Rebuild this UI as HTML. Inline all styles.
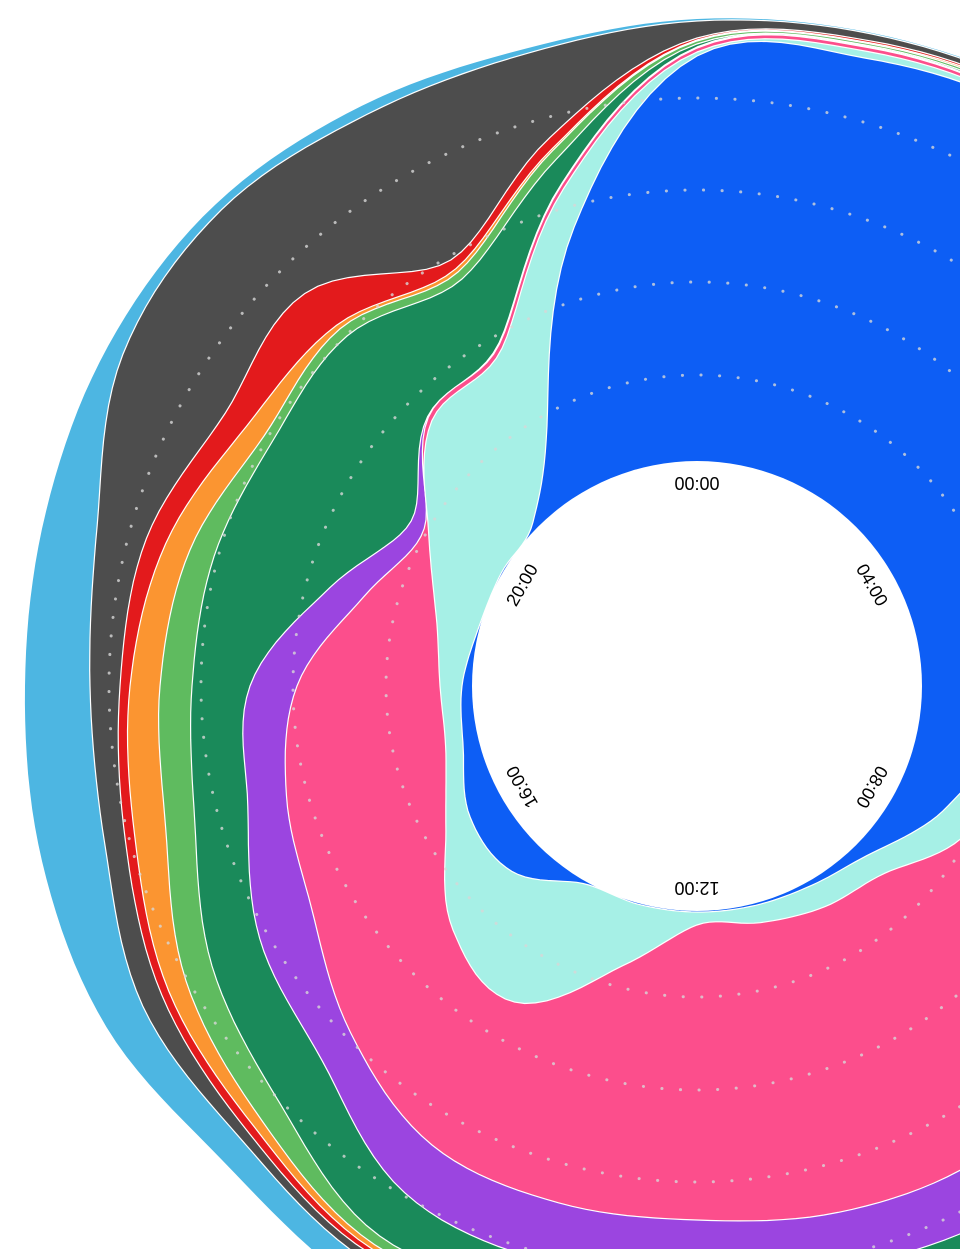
<!DOCTYPE html>
<html><head><meta charset="utf-8"><style>
html,body{margin:0;padding:0;background:#fff;overflow:hidden}
svg{display:block}
</style></head><body>
<svg id="chart" width="960" height="1249" viewBox="0 0 960 1249" xmlns="http://www.w3.org/2000/svg"></svg>
<script>
const hours = ["00:00","01:00","02:00","03:00","04:00","05:00","06:00","07:00","08:00","09:00","10:00","11:00","12:00","13:00","14:00","15:00","16:00","17:00","18:00","19:00","20:00","21:00","22:00","23:00"];
const tickLabels = ["00:00","04:00","08:00","12:00","16:00","20:00"];
const seriesNames = ["blue","cyan","pink","purple","dark-green","light-green","orange","red","gray","light-blue"];
const blue   = [405,425,435,405,345,265,175,80,45,15,5,2,1,1,3,37,37,17,10,1,1,7,75,250];
const cyan   = [4,7,4,10,15,15,20,15,35,25,25,18,13,64,137,83,28,18,22,44,84,143,90,40];
const pink   = [4,4,4,8,15,35,60,130,195,275,296,300,295,245,165,145,155,165,143,75,5,5,5,5];
const purple = [1,1,1,2,5,10,20,50,60,60,58,55,55,60,55,40,60,40,47,35,15,1,1,1];
const dkgreen= [3,1,3,10,25,40,50,50,40,30,21,30,30,30,50,60,55,55,58,120,160,114,74,24];
const ltgreen= [3,2,3,5,10,10,10,10,10,10,10,12,12,12,10,25,30,30,32,25,10,10,8,10];
const orange = [1,1,2,3,5,5,5,5,5,5,5,5,5,5,5,10,20,32,30,25,20,5,4,2];
const red    = [2,2,2,3,5,5,5,5,5,5,5,5,5,5,5,8,8,10,10,20,25,45,10,11];
const gray   = [17,7,6,14,15,15,15,15,15,15,15,15,15,15,8,10,22,21,30,51,118,118,168,87];
const ltblue = [2,1,2,8,25,35,35,35,30,30,30,33,38,40,25,28,42,65,65,53,17,8,10,5];
const gridValues = [86,179,271,363];

const series = [blue,cyan,pink,purple,dkgreen,ltgreen,orange,red,gray,ltblue];
const colors = ["#0d5ef5","#a6f0e6","#fc4e8c","#9b45e0","#1a8a5a","#5fbb5f","#fb9531","#e31a1c","#4d4d4d","#4db6e2"];
const CX=697, CY=686, R0=225;
const NS="http://www.w3.org/2000/svg";
const svg=document.getElementById('chart');
const rScale=v=>R0+v;
const aScale=i=>i/hours.length*2*Math.PI;

const n=hours.length;
const cum=[]; let acc=new Array(n).fill(0);
series.forEach(s=>{acc=acc.map((a,i)=>a+s[i]);cum.push(acc.slice());});

function ringPath(vals){
  const sub=10, pts=[];
  for(let i=0;i<n;i++){
    const p0=vals[(i-1+n)%n],p1=vals[i],p2=vals[(i+1)%n],p3=vals[(i+2)%n];
    for(let k=0;k<sub;k++){
      const t=k/sub,t2=t*t,t3=t2*t;
      const v=0.5*((2*p1)+(-p0+p2)*t+(2*p0-5*p1+4*p2-p3)*t2+(-p0+3*p1-3*p2+p3)*t3);
      const a=aScale(i+t), r=rScale(v);
      pts.push((CX+r*Math.sin(a)).toFixed(1)+","+(CY-r*Math.cos(a)).toFixed(1));
    }
  }
  return "M"+pts.join("L")+"Z";
}
const g=document.createElementNS(NS,'g');


svg.appendChild(g);
for(let j=series.length-1;j>=0;j--){
  const p=document.createElementNS(NS,'path');
  p.setAttribute('d',ringPath(cum[j]));
  p.setAttribute('fill',colors[j]);
  p.setAttribute('stroke','#fff');
  p.setAttribute('stroke-width',j>=9?'0':'1.2');
  
  
  g.appendChild(p);
}
const hole=document.createElementNS(NS,'circle');
hole.setAttribute('cx',CX);hole.setAttribute('cy',CY);hole.setAttribute('r',R0);
hole.setAttribute('fill','#fff');


svg.appendChild(hole);
gridValues.forEach(v=>{
  const c=document.createElementNS(NS,'circle');
  c.setAttribute('cx',CX);c.setAttribute('cy',CY);c.setAttribute('r',rScale(v));
  c.setAttribute('fill','none');c.setAttribute('stroke','rgba(215,215,215,0.8)');
  c.setAttribute('stroke-width','3');c.setAttribute('stroke-linecap','round');
  c.setAttribute('stroke-dasharray','0.1 18.5');
  
  
  svg.appendChild(c);
});
tickLabels.forEach((lab,i)=>{
  const t=document.createElementNS(NS,'text');
  const deg=i*60;
  t.setAttribute('transform',`translate(${CX},${CY}) rotate(${deg}) translate(0,-202)`);
  t.setAttribute('text-anchor','middle');
  t.setAttribute('dominant-baseline','central');
  t.setAttribute('font-family','Liberation Sans, sans-serif');
  t.setAttribute('font-size','18');
  t.setAttribute('fill','#000');
  t.textContent=lab;
  
  
  svg.appendChild(t);
});
</script>
</body></html>
